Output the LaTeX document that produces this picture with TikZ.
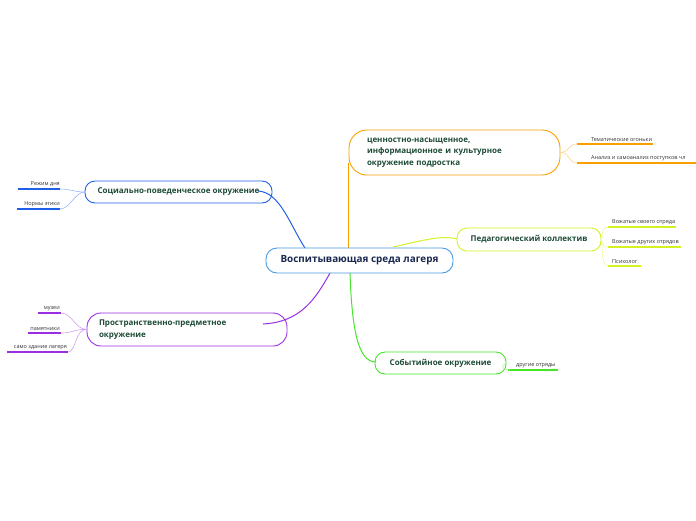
\documentclass[tikz,border=0pt]{standalone}
\usepackage{fontspec}
\setmainfont{Open Sans}
\definecolor{cOr}{HTML}{F7A000}
\definecolor{cBl}{HTML}{2060E8}
\definecolor{cPu}{HTML}{9B2FE0}
\definecolor{cGr}{HTML}{45E62A}
\definecolor{cYe}{HTML}{D4F222}
\definecolor{cRoot}{HTML}{4A9AE0}
\definecolor{tGreen}{HTML}{1E4A36}
\definecolor{tNavy}{HTML}{1A2850}
\tikzset{
  rootbox/.style={draw=cRoot, line width=0.9pt, rounded corners=11pt, minimum width=187pt, minimum height=25pt, font=\fontsize{9.9}{11}\selectfont\bfseries, text=tNavy, inner sep=0pt},
  mainbox/.style={draw=#1, line width=0.9pt, rounded corners=10pt, inner sep=0pt, font=\fontsize{8}{11.5}\selectfont\bfseries, text=tGreen},
  leaf/.style={font=\fontsize{5.5}{6}\selectfont, text=black!80, inner sep=1pt, anchor=south west},
  leafl/.style={font=\fontsize{5.5}{6}\selectfont, text=black!80, inner sep=1pt, anchor=south east},
  uline/.style={draw=#1, line width=1.2pt},
  conn/.style={draw=#1, line width=1pt},
  sconn/.style={draw=#1!45, line width=0.6pt},
}
\begin{document}
\begin{tikzpicture}[x=1pt,y=-1pt]
\useasboundingbox (0,0) rectangle (696,520);

% main connectors
\coordinate (rB) at (305,248);
\coordinate (rP) at (330,273);
\coordinate (rO) at (348,248);
\coordinate (rG) at (350,273);
\coordinate (rY) at (393,247);
\coordinate (eB) at (258,191);
\coordinate (eP) at (263,324);
\coordinate (eO) at (348,163);
\coordinate (eG) at (376,362);
\coordinate (eY) at (458,239);

\draw[conn=cBl] (rB) .. controls (290,225) and (280,192) .. (eB);
\draw[conn=cPu] (rP) .. controls (315,300) and (300,322) .. (eP);
\draw[conn=cOr] (rO) -- (eO);
\draw[conn=cGr] (rG) .. controls (352,330) and (358,362) .. (eG);
\draw[conn=cYe] (rY) .. controls (425,240) and (440,235) .. (eY);

% root
\node[rootbox] (root) at (359.5,260.5) {Воспитывающая среда лагеря};

% main boxes
\node[mainbox=cOr, rounded corners=18pt, minimum width=211pt, minimum height=45pt, text width=175pt, align=left, inner xsep=18pt] (ora) at (454.5,152.5)
  {ценностно-насыщенное,\\информационное и культурное\\окружение подростка};
\node[mainbox=cBl, minimum width=187pt, minimum height=22pt] (blu) at (178.5,192) {Социально-поведенческое окружение};
\node[mainbox=cPu, rounded corners=14pt, minimum width=200pt, minimum height=33pt, text width=176pt, align=left, inner xsep=12pt] (pur) at (187,329.5)
  {Пространственно-предметное\\окружение};
\node[mainbox=cGr, minimum width=131pt, minimum height=22pt] (gre) at (440.5,363) {Событийное окружение};
\node[mainbox=cYe, minimum width=144pt, minimum height=23pt] (yel) at (529,239.5) {Педагогический коллектив};

% orange leaves
\node[leaf] (o1) at (590,143) {Тематические огоньки};
\node[leaf] (o2) at (590,162) {Анализ и самоанализ поступков чл};
\draw[uline=cOr] (577,144) -- (653,144);
\draw[uline=cOr] (577,163) -- (696,163);
\draw[sconn=cOr] (ora.east) .. controls (570,152) and (568,144) .. (577,144);
\draw[sconn=cOr] (ora.east) .. controls (570,152) and (568,163) .. (577,163);

% yellow leaves
\node[leaf] (y1) at (611,226) {Вожатые своего отряда};
\node[leaf] (y2) at (611,246) {Вожатые других отрядов};
\node[leaf] (y3) at (611,265) {Психолог};
\draw[uline=cYe] (608,227) -- (676,227);
\draw[uline=cYe] (608,247) -- (681,247);
\draw[uline=cYe] (608,266) -- (641,266);
\draw[sconn=cYe] (yel.east) .. controls (603,240) and (600,227) .. (608,227);
\draw[sconn=cYe] (yel.east) .. controls (603,240) and (600,247) .. (608,247);
\draw[sconn=cYe] (yel.east) .. controls (603,240) and (600,266) .. (608,266);

% green leaf
\node[leaf] (g1) at (515,369) {другие отряды};
\draw[uline=cGr] (508,370) -- (558,370);
\draw[sconn=cGr] (gre.east) .. controls (500,366) and (502,370) .. (510,370);

% blue leaves
\node[leafl] (b1) at (61,188) {Режим дня};
\node[leafl] (b2) at (61,208) {Нормы этики};
\draw[uline=cBl] (18,189) -- (60,189);
\draw[uline=cBl] (17,209) -- (60,209);
\draw[sconn=cBl] (blu.west) .. controls (75,192) and (70,189) .. (60,189);
\draw[sconn=cBl] (blu.west) .. controls (75,192) and (70,209) .. (60,209);

% purple leaves
\node[leafl] (p1) at (61,312) {музеи};
\node[leafl] (p2) at (61,332) {памятники};
\node[leafl] (p3) at (68,351) {само здание лагеря};
\draw[uline=cPu] (38,313) -- (61,313);
\draw[uline=cPu] (28,333) -- (61,333);
\draw[uline=cPu] (7,352) -- (68,352);
\draw[sconn=cPu] (pur.west) .. controls (75,329) and (72,313) .. (61,313);
\draw[sconn=cPu] (pur.west) .. controls (75,329) and (72,333) .. (61,333);
\draw[sconn=cPu] (pur.west) .. controls (75,329) and (76,352) .. (68,352);
\end{tikzpicture}
\end{document}
